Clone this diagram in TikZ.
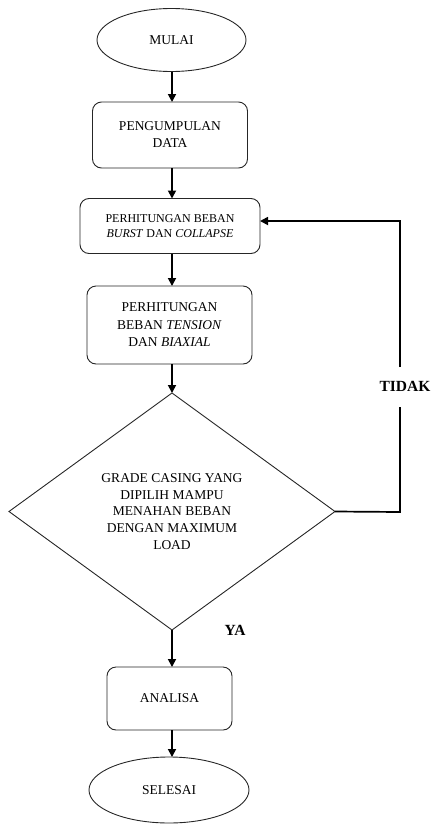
\documentclass[tikz,border=0pt]{standalone}
\usepackage{fontspec}
\setmainfont{Liberation Serif}
\usetikzlibrary{shapes.geometric,arrows.meta}
\begin{document}
\begin{tikzpicture}[x=1pt,y=-1pt,
  every node/.style={inner sep=0pt,outer sep=0pt,align=center},
  shp/.style={draw=black!85,line width=0.9pt},
  term/.style={shp,ellipse},
  proc/.style={shp,rounded corners=9pt},
  txt/.style={font=\fontsize{13.5}{17}\selectfont},
  flow/.style={line width=1.7pt,-{Triangle[length=8pt,width=8pt]}},
  lbl/.style={font=\fontsize{15.5}{18}\selectfont\bfseries}]
\useasboundingbox (0,0) rectangle (437,825);
\node[term,txt,minimum width=149pt,minimum height=63pt] (mulai) at (171.5,40) {MULAI};
\node[proc,txt,minimum width=155pt,minimum height=66pt] (kumpul) at (170,135) {PENGUMPULAN\\DATA};
\node[proc,font=\fontsize{12}{15}\selectfont,minimum width=180pt,minimum height=55pt] (bc) at (170,226) {PERHITUNGAN BEBAN\\\textit{BURST} DAN \textit{COLLAPSE}};
\node[proc,txt,minimum width=165pt,minimum height=78pt,font=\fontsize{13.5}{17.5}\selectfont] (tb) at (169.5,325) {PERHITUNGAN\\BEBAN \textit{TENSION}\\DAN \textit{BIAXIAL}};
\node[shp,diamond,aspect=1.375,minimum width=326pt,minimum height=237pt,font=\fontsize{13.5}{16.9}\selectfont] (dia) at (172,511.5) {GRADE CASING YANG\\DIPILIH MAMPU\\MENAHAN BEBAN\\DENGAN MAXIMUM\\LOAD};
\node[proc,txt,minimum width=125pt,minimum height=63pt] (analisa) at (169.5,698.5) {ANALISA};
\node[term,txt,minimum width=160pt,minimum height=66pt] (selesai) at (169,790) {SELESAI};
\node[lbl] (tidak) at (405,386) {TIDAK};
\node[lbl] (ya) at (235,630) {YA};
\coordinate (c1) at (400,512);
\coordinate (c2) at (400,407);
\coordinate (c3) at (400,367);
\coordinate (c4) at (400,221);
\draw[flow] (mulai.south -| 172,0) -- (kumpul.north -| 172,0);
\draw[flow] (kumpul.south -| 172,0) -- (bc.north -| 172,0);
\draw[flow] (bc.south -| 172,0) -- (tb.north -| 172,0);
\draw[flow] (tb.south -| 172,0) -- (dia.north);
\draw[flow] (dia.south) -- (analisa.north -| 172,0);
\draw[flow] (analisa.south -| 172,0) -- (selesai.north -| 172,0);
\draw[line width=1.7pt] (dia.east) -- (c1) -- (c2);
\draw[flow] (c3) -- (c4) -- (bc.east |- c4);
\end{tikzpicture}
\end{document}
